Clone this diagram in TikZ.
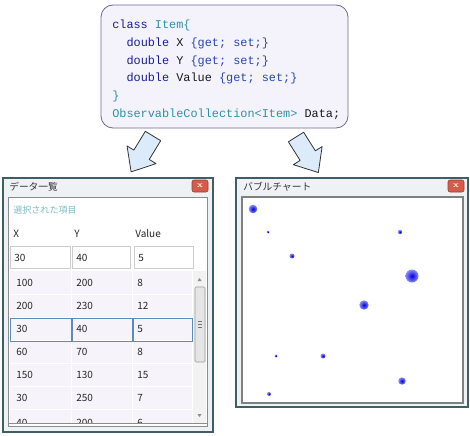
\documentclass[tikz,border=0pt]{standalone}
\usepackage{fontspec}
\setmonofont{Liberation Mono}
\newfontfamily\jpfont{Noto Sans CJK JP}

\definecolor{kwblue}{HTML}{1C1C9C}
\definecolor{acblue}{HTML}{2846B4}
\definecolor{tyteal}{HTML}{3090A8}
\definecolor{codefill}{HTML}{F4F3FC}
\definecolor{codeborder}{HTML}{6F6A8A}
\definecolor{arrowfill}{HTML}{DCEBFA}
\definecolor{framefill}{HTML}{EEF2F5}
\definecolor{frameline}{HTML}{3E5F68}
\definecolor{closered}{HTML}{D65B48}
\definecolor{rowfill}{HTML}{F6F4FA}
\definecolor{selline}{HTML}{5B8CBB}
\definecolor{captionteal}{HTML}{7DBDC9}

\newcommand{\kw}[1]{\textcolor{kwblue}{#1}}
\newcommand{\ac}[1]{\textcolor{acblue}{#1}}
\newcommand{\ty}[1]{\textcolor{tyteal}{#1}}

\tikzset{
  codetext/.style={anchor=base west, inner sep=0pt, text=black!90,
    font=\ttfamily\fontsize{8.9}{11}\selectfont},
  cell/.style={anchor=base west, inner sep=0pt, text=black!85,
    font=\jpfont\fontsize{7.5}{9}\selectfont},
  wintitle/.style={anchor=base west, inner sep=0pt, text=black!80,
    font=\jpfont\fontsize{7.3}{9}\selectfont},
  window/.style={draw=frameline, fill=framefill, line width=0.8pt},
  closebtn/.style={draw=closered!70!black, fill=closered, rounded corners=1.5pt,
    minimum width=12pt, minimum height=9pt, inner sep=0pt, text=white,
    font=\bfseries\fontsize{6}{6}\selectfont},
  blockarrow/.style={draw=black!80, fill=arrowfill, line width=0.6pt, line join=round},
  tbox/.style={draw=black!20, fill=white},
  bubble/.style={inner color=blue!85!black, outer color=blue!45},
}

\begin{document}
\begin{tikzpicture}[x=0.75pt, y=-0.75pt]
  \useasboundingbox (0,0) rectangle (470,435);

  % Code
  \draw[draw=codeborder, fill=codefill, rounded corners=9pt, line width=0.6pt]
    (101,5) rectangle (348,128);
  \node[codetext] (code1) at (112,29)    {\kw{class} \ty{Item\{}};
  \node[codetext] (code2) at (112,46.6)  {\phantom{xx}\kw{double} X \ac{\{get; set;\}}};
  \node[codetext] (code3) at (112,64.2)  {\phantom{xx}\kw{double} Y \ac{\{get; set;\}}};
  \node[codetext] (code4) at (112,81.8)  {\phantom{xx}\kw{double} Value \ac{\{get; set;\}}};
  \node[codetext] (code5) at (112,99.4)  {\ty{\}}};
  \node[codetext] (code6) at (112,117)   {\ty{ObservableCollection<Item>} Data;};

  % Arrows
  \begin{scope}[shift={(153,136)}, rotate=-121.4]
    \draw[blockarrow] (0,-9) -- (22,-9) -- (22,-17) -- (42,0) -- (22,17) -- (22,9) -- (0,9) -- cycle;
  \end{scope}
  \begin{scope}[shift={(296,137)}, rotate=-57.8]
    \draw[blockarrow] (0,-9) -- (22,-9) -- (22,-17) -- (42,0) -- (22,17) -- (22,9) -- (0,9) -- cycle;
  \end{scope}

  % Data list window
  \draw[window] (3,178) rectangle (213,432);
  \node[wintitle] (listtitle) at (9,190.5) {データ一覧};
  \node[closebtn] (listclose) at (200,186) {x};
  \draw[draw=black!45, fill=white] (8,197) rectangle (207,426);
  \node[cell, text=captionteal, font=\jpfont\fontsize{6.8}{8}\selectfont] (selcaption) at (13,213.5) {選択された項目};
  \node[cell] (headx) at (13,237) {X};
  \node[cell] (heady) at (74,237) {Y};
  \node[cell] (headv) at (135,237) {Value};
  \draw[tbox] (10,246) rectangle (70,268);
  \draw[tbox] (72,246) rectangle (130,268);
  \draw[tbox] (134,246) rectangle (193,268);
  \node[cell] (selx) at (14,261) {30};
  \node[cell] (sely) at (76,261) {40};
  \node[cell] (selv) at (138,261) {5};

  % Grid
  \begin{scope}
    \clip (8,271) rectangle (207,423);
    \fill[rowfill] (10,271) rectangle (192,428);
    \foreach \y in {294.5,317.5,340.5,363.5,386.5,409.5}
      \draw[white, line width=1pt] (10,\y) -- (192,\y);
    \draw[white, line width=1pt] (71.5,271) -- (71.5,428);
    \draw[white, line width=1pt] (132.5,271) -- (132.5,428);
    \draw[selline, line width=0.6pt] (10,318) rectangle (71,341);
    \draw[selline, line width=0.6pt] (72,318) rectangle (132,341);
    \draw[selline, line width=0.6pt] (133,318) rectangle (192,341);
    \node[cell] (r1x) at (16,286) {100};
    \node[cell] (r1y) at (76,286) {200};
    \node[cell] (r1v) at (137,286) {8};
    \node[cell] (r2x) at (16,309) {200};
    \node[cell] (r2y) at (76,309) {230};
    \node[cell] (r2v) at (137,309) {12};
    \node[cell] (r3x) at (16,332) {30};
    \node[cell] (r3y) at (76,332) {40};
    \node[cell] (r3v) at (137,332) {5};
    \node[cell] (r4x) at (16,355) {60};
    \node[cell] (r4y) at (76,355) {70};
    \node[cell] (r4v) at (137,355) {8};
    \node[cell] (r5x) at (16,378) {150};
    \node[cell] (r5y) at (76,378) {130};
    \node[cell] (r5v) at (137,378) {15};
    \node[cell] (r6x) at (16,401) {30};
    \node[cell] (r6y) at (76,401) {250};
    \node[cell] (r6v) at (137,401) {7};
    \node[cell] (r7x) at (16,426.5) {40};
    \node[cell] (r7y) at (76,426.5) {200};
    \node[cell] (r7v) at (137,426.5) {6};
  \end{scope}
  \draw[black!45] (8,423.5) -- (207,423.5);

  % Scrollbar
  \fill[black!5] (193,271) rectangle (206,423);
  \fill[black!45] (197.5,281) -- (201.5,281) -- (199.5,278) -- cycle;
  \fill[black!45] (197.5,414) -- (201.5,414) -- (199.5,417) -- cycle;
  \draw[draw=black!40, fill=black!10, rounded corners=1pt] (195,287) rectangle (205,362);
  \draw[black!55, line width=0.5pt] (198,321) -- (202,321) (198,324) -- (202,324) (198,327) -- (202,327);

  % Bubble chart window
  \draw[window] (236,178) rectangle (468,407);
  \node[wintitle] (charttitle) at (243,190.5) {バブルチャート};
  \node[closebtn] (chartclose) at (456,186) {x};
  \draw[draw=black!50, fill=white, line width=1.2pt] (242,197) rectangle (463,403);

  % Bubbles
  \shade[bubble] (253,209) circle (4.3);
  \shade[bubble] (268,232) circle (1.5);
  \shade[bubble] (400,232) circle (2.2);
  \shade[bubble] (292,256) circle (2.5);
  \shade[bubble] (412,276) circle (6.5);
  \shade[bubble] (364,305) circle (4.7);
  \shade[bubble] (276,356) circle (1.7);
  \shade[bubble] (323,356) circle (2.5);
  \shade[bubble] (402,381) circle (3.7);
  \shade[bubble] (269,394) circle (2);
\end{tikzpicture}
\end{document}
